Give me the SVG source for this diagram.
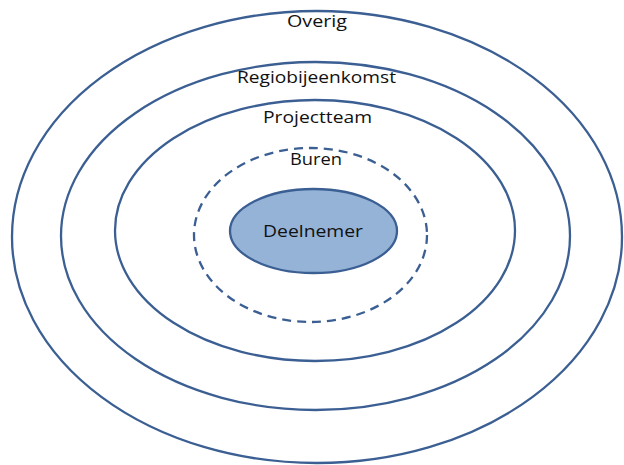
<svg xmlns="http://www.w3.org/2000/svg" width="624" height="465" viewBox="0 0 624 465">
<style>
.ring{fill:none;stroke:#3b5f93;stroke-width:2.3}
.dash{stroke-dasharray:9 6}
.core{fill:#95b3d7;stroke:#3b5f93;stroke-width:2.3}
text{font-family:"Open Sans","Noto Sans","Liberation Sans",sans-serif;font-size:17px;fill:#111;text-anchor:middle}
</style>
<rect width="624" height="465" fill="#fff"/>
<g id="overig">
<ellipse class="ring" cx="317" cy="237" rx="305" ry="226"/>
<text x="317" y="27" textLength="60" lengthAdjust="spacingAndGlyphs">Overig</text>
</g>
<g id="regiobijeenkomst">
<ellipse class="ring" cx="315.5" cy="236" rx="254.5" ry="174"/>
<text x="316.5" y="83" textLength="159" lengthAdjust="spacingAndGlyphs">Regiobijeenkomst</text>
</g>
<g id="projectteam">
<ellipse class="ring" cx="315" cy="230.5" rx="200" ry="130.5"/>
<text x="317.5" y="123" textLength="109" lengthAdjust="spacingAndGlyphs">Projectteam</text>
</g>
<g id="buren">
<ellipse class="ring dash" cx="310.5" cy="235" rx="116.5" ry="87"/>
<text x="316" y="165" textLength="52" lengthAdjust="spacingAndGlyphs">Buren</text>
</g>
<g id="deelnemer">
<ellipse class="core" cx="313.5" cy="231" rx="83.5" ry="42"/>
<text x="313" y="237" textLength="100" lengthAdjust="spacingAndGlyphs">Deelnemer</text>
</g>
<g id="connectors"/>
</svg>
